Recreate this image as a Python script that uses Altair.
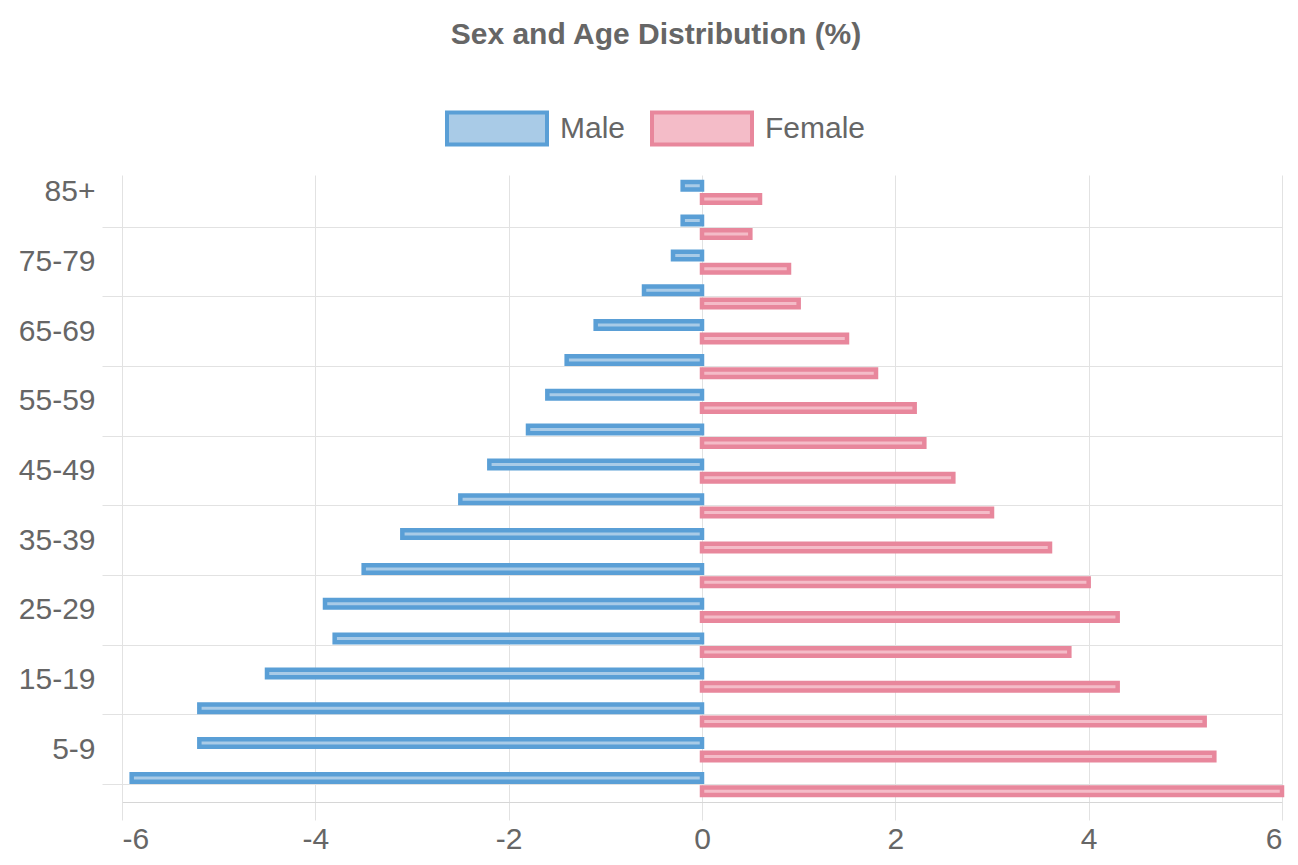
import altair as alt
import pandas as pd

ages = ["85+", "80-84", "75-79", "70-74", "65-69", "60-64", "55-59", "50-54",
        "45-49", "40-44", "35-39", "30-34", "25-29", "20-24", "15-19", "10-14",
        "5-9", "0-4"]
male = [0.2, 0.2, 0.3, 0.6, 1.1, 1.4, 1.6, 1.8, 2.2, 2.5, 3.1, 3.5, 3.9, 3.8,
        4.5, 5.2, 5.2, 5.9]
female = [0.6, 0.5, 0.9, 1.0, 1.5, 1.8, 2.2, 2.3, 2.6, 3.0, 3.6, 4.0, 4.3, 3.8,
          4.3, 5.2, 5.3, 6.0]
sexes = ["Male", "Female"]
x_ticks = [-6, -4, -2, 0, 2, 4, 6]

labeled = ages[0::2]
gridded = ages[1::2]

rows = []
for a, m, f in zip(ages, male, female):
    rows.append({"age": a, "sex": "Male", "value": -m})
    rows.append({"age": a, "sex": "Female", "value": f})
df = pd.DataFrame(rows)

FONT = "Liberation Sans, Arial, Helvetica"
GRID = "#e2e2e2"
TXT = "#666666"
FS = 30

lab_list = "[" + ",".join("'%s'" % s for s in labeled) + "]"
grid_list = "[" + ",".join("'%s'" % s for s in gridded) + "]"
grid_test = "indexof(%s, datum.value) >= 0" % grid_list

bars = alt.Chart(df).mark_bar(strokeWidth=4.5).encode(
    x=alt.X("value:Q",
            scale=alt.Scale(domain=[-6, 6], nice=False, zero=False),
            axis=alt.Axis(values=x_ticks, title=None, grid=True, gridColor=GRID,
                          tickColor=GRID, tickSize=18, domainColor="#d6d6d6",
                          labelFontSize=FS, labelFont=FONT, labelColor=TXT,
                          labelPadding=4, labelExpr="'' + datum.value")),
    y=alt.Y("age:N", sort=ages,
            scale=alt.Scale(domain=ages, paddingInner=0, paddingOuter=0),
            axis=alt.Axis(title=None, values=ages, bandPosition=0.5,
                          grid=True, gridColor=GRID,
                          gridOpacity={"condition": {"test": grid_test, "value": 1}, "value": 0},
                          ticks=True, tickSize=20, tickColor=GRID,
                          tickOpacity={"condition": {"test": grid_test, "value": 1}, "value": 0},
                          domain=False,
                          labelExpr="indexof(%s, datum.value) >= 0 ? datum.label : ''" % lab_list,
                          labelFontSize=FS, labelFont=FONT, labelColor=TXT,
                          labelPadding=7)),
    yOffset=alt.YOffset("sex:N", sort=sexes,
                        scale=alt.Scale(domain=sexes, paddingInner=0.436, paddingOuter=0.5275)),
    fill=alt.Fill("sex:N", sort=sexes,
                  scale=alt.Scale(domain=sexes, range=["#a9cbe7", "#f4bcc8"]),
                  legend=alt.Legend(title=None, orient="none", legendX=323, legendY=-98.5,
                                    direction="horizontal",
                                    symbolType="M-1,-0.32H1V0.32H-1Z",
                                    symbolSize=10000, symbolStrokeWidth=4,
                                    labelFontSize=FS, labelFont=FONT, labelColor=TXT,
                                    labelOffset=11, columnPadding=18, padding=0)),
    stroke=alt.Stroke("sex:N", sort=sexes,
                      scale=alt.Scale(domain=sexes, range=["#5a9fd6", "#e8879c"]),
                      legend=None),
)

chart = bars.properties(
    width=1160, height=627,
    autosize=alt.AutoSizeParams(type="none"),
    padding={"left": 114, "top": 167, "right": 8, "bottom": 55},
    title=alt.Title("Sex and Age Distribution (%)", fontSize=FS, font=FONT,
                    fontWeight="bold", color=TXT, anchor="middle", frame="group",
                    dx=-46, offset=27),
).configure_view(stroke=None).configure_legend(symbolStrokeColor=None)

chart.save("out.html", embed_options={"renderer": "svg", "actions": False})
